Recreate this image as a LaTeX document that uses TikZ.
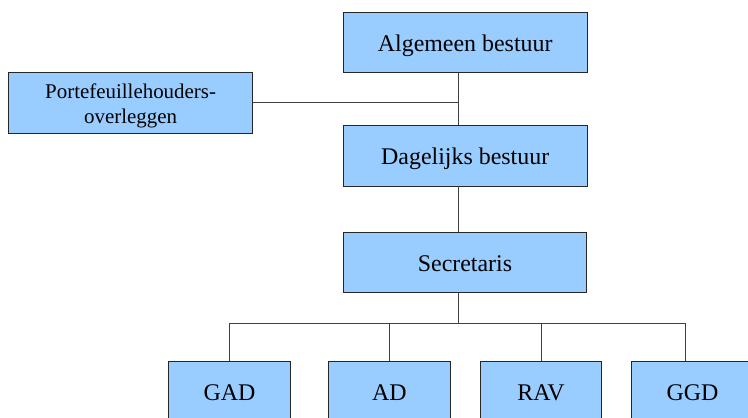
\documentclass[tikz,border=0pt]{standalone}
\usepackage{fontspec}
\setmainfont{Liberation Serif}
\usetikzlibrary{positioning}
\definecolor{boxblue}{HTML}{99CCFF}
\definecolor{linegray}{HTML}{404040}

\begin{document}
\begin{tikzpicture}[x=1bp,y=-1bp,line width=0.8bp,
  main node/.style={rectangle,draw=black!85,fill=boxblue,inner sep=0pt,
    minimum width=243.5bp,minimum height=60.5bp,text height=18bp,text depth=0pt,
    font=\fontsize{24}{28}\selectfont},
  side node/.style={main node,align=center,minimum height=61bp,
    text height=41bp,text depth=0pt,font=\fontsize{21}{25}\selectfont},
  unit node/.style={main node,minimum width=121.5bp,minimum height=60bp},
  link/.style={draw=linegray}]

  \useasboundingbox (0,0) rectangle (748,417);

  \node[main node] (ab) at (465.2,42.2) {Algemeen bestuur};
  \node[main node] (db) at (465.2,155.7) {Dagelijks bestuur};
  \node[main node] (sec) at (465,262.5) {Secretaris};
  \node[side node] (po) at (130.6,102.8) {Portefeuillehouders-\\overleggen};

  \node[unit node] (gad) at (229.6,391.3) {GAD};
  \node[unit node] (ad) at (389.3,391.3) {AD};
  \node[unit node] (rav) at (541,391.3) {RAV};
  \node[unit node] (ggd) at (692.6,391.3) {GGD};

  \coordinate (spine) at (458,0);
  \coordinate (bus) at (0,323.3);
  \coordinate (ggdline) at ([xshift=-7bp]ggd.north);

  \path[link]
    (ab.south -| spine) edge (db.north -| spine)
    (po.east) edge (po.east -| spine)
    (db.south -| spine) edge (sec.north -| spine)
    (sec.south -| spine) edge (bus -| spine);
  \draw[link] (gad.north) |- (ggdline |- bus) -- (ggdline);
  \foreach \n in {ad,rav}
    \draw[link] (\n.north) -- (\n.north |- bus);
\end{tikzpicture}
\end{document}
